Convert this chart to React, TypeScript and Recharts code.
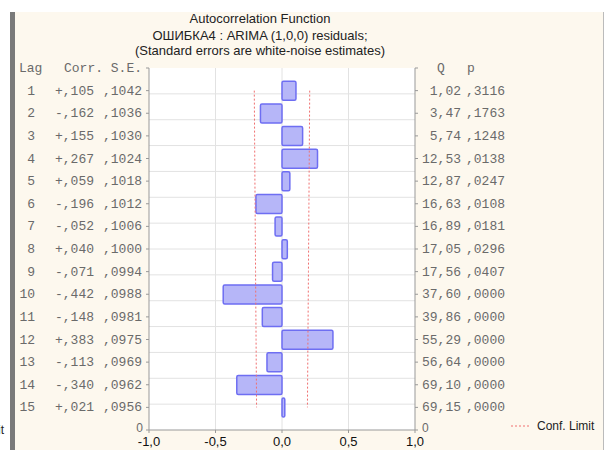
import React from "react";
import { ComposedChart, Bar, Line, XAxis, YAxis, CartesianGrid } from "recharts";

const lags = [1, 2, 3, 4, 5, 6, 7, 8, 9, 10, 11, 12, 13, 14, 15];
const corr = [0.105, -0.162, 0.155, 0.267, 0.059, -0.196, -0.052, 0.04, -0.071, -0.442, -0.148, 0.383, -0.113, -0.34, 0.021];
const stdErr = [0.1042, 0.1036, 0.103, 0.1024, 0.1018, 0.1012, 0.1006, 0.1, 0.0994, 0.0988, 0.0981, 0.0975, 0.0969, 0.0962, 0.0956];
const qStat = [1.02, 3.47, 5.74, 12.53, 12.87, 16.63, 16.89, 17.05, 17.56, 37.6, 39.86, 55.29, 56.64, 69.1, 69.15];
const pValue = [0.3116, 0.1763, 0.1248, 0.0138, 0.0247, 0.0108, 0.0181, 0.0296, 0.0407, 0.0, 0.0, 0.0, 0.0, 0.0, 0.0];
const xTicks = [-1, -0.5, 0, 0.5, 1];
const yTicks = [0, 1, 2, 3, 4, 5, 6, 7, 8, 9, 10, 11, 12, 13, 14, 15, 16];

const data = lags.map((lag, i) => ({
  lag,
  corr: corr[i],
  upper: 2 * stdErr[i],
  lower: -2 * stdErr[i],
}));

const fmtCorr = (v: number) => (v >= 0 ? "+" : "-") + "," + Math.abs(v).toFixed(3).slice(2);
const fmtFrac = (v: number) => "," + v.toFixed(4).slice(2);
const fmtQ = (v: number) => v.toFixed(2).replace(".", ",");

const mono = "'Liberation Mono', 'DejaVu Sans Mono', monospace";
const sans = "'Liberation Sans', Arial, sans-serif";
const textGray = "#6a6a6a";

function LeftTick(props: any) {
  const { y, payload } = props;
  const v = payload.value;
  if (v === 0) {
    return (
      <g>
        <text x={19} y={y} dy={4} fontFamily={mono} fontSize={13} fill={textGray}>Lag</text>
        <text x={64} y={y} dy={4} fontFamily={mono} fontSize={13} fill={textGray} style={{ whiteSpace: "pre" }}>Corr. S.E.</text>
      </g>
    );
  }
  if (v === 16) {
    return <text x={143} y={y} dy={2} textAnchor="end" fontFamily={sans} fontSize={12} fill={textGray}>0</text>;
  }
  const i = v - 1;
  return (
    <g>
      <text x={35} y={y} dy={4} textAnchor="end" fontFamily={mono} fontSize={13} fill={textGray}>{lags[i]}</text>
      <text x={55} y={y} dy={4} fontFamily={mono} fontSize={13} fill={textGray}>{fmtCorr(corr[i])}</text>
      <text x={103} y={y} dy={4} fontFamily={mono} fontSize={13} fill={textGray}>{fmtFrac(stdErr[i])}</text>
    </g>
  );
}

function RightTick(props: any) {
  const { y, payload } = props;
  const v = payload.value;
  if (v === 0) {
    return (
      <g>
        <text x={437} y={y} dy={4} fontFamily={mono} fontSize={13} fill={textGray}>Q</text>
        <text x={467} y={y} dy={4} fontFamily={mono} fontSize={13} fill={textGray}>p</text>
      </g>
    );
  }
  if (v === 16) {
    return <text x={422} y={y} dy={2} fontFamily={sans} fontSize={12} fill={textGray}>0</text>;
  }
  const i = v - 1;
  return (
    <g>
      <text x={461} y={y} dy={4} textAnchor="end" fontFamily={mono} fontSize={13} fill={textGray}>{fmtQ(qStat[i])}</text>
      <text x={466} y={y} dy={4} fontFamily={mono} fontSize={13} fill={textGray}>{fmtFrac(pValue[i])}</text>
    </g>
  );
}

const titleLine = (text: string, cy: number) => (
  <div
    style={{
      position: "absolute",
      left: 60,
      width: 400,
      top: cy - 8,
      lineHeight: "16px",
      textAlign: "center",
      fontFamily: sans,
      fontSize: 13,
      color: "#222",
      whiteSpace: "nowrap",
    }}
  >
    {text}
  </div>
);

export default function App() {
  return (
    <div style={{ position: "absolute", left: 0, top: 0, width: 608, height: 450, background: "#fff", overflow: "hidden" }}>
      {/* panel */}
      <div style={{ position: "absolute", left: 10, top: 12, width: 594, height: 438, background: "#fdf8ee", borderLeft: "5px solid #7a7a7a", borderRight: "1px solid #bbb", boxSizing: "border-box" }} />
      {titleLine("Autocorrelation Function", 19)}
      {titleLine("ОШИБКА4 : ARIMA (1,0,0) residuals;", 36)}
      {titleLine("(Standard errors are white-noise estimates)", 51)}
      <div style={{ position: "absolute", left: 0, top: 0 }}>
        <ComposedChart
          width={608}
          height={450}
          data={data}
          layout="vertical"
          margin={{ top: 68, right: 0, bottom: 0, left: 0 }}
        >
          <CartesianGrid stroke="#e2e2e2" fill="#ffffff" horizontalValues={lags} verticalValues={[-0.5, 0, 0.5]} />
          <XAxis
            type="number"
            domain={[-1, 1]}
            ticks={xTicks}
            height={20}
            stroke="#999"
            tickSize={3}
            tickMargin={4}
            tick={{ fill: "#111", fontFamily: sans, fontSize: 13 }}
            tickFormatter={(v: number) => v.toFixed(1).replace(".", ",")}
          />
          <XAxis
            xAxisId="top"
            orientation="top"
            type="number"
            domain={[-1, 1]}
            ticks={xTicks}
            height={0}
            stroke="#999"
            tickSize={3}
            mirror
            tick={false}
          />
          <YAxis
            yAxisId="left"
            type="number"
            dataKey="lag"
            domain={[0, 16]}
            ticks={yTicks}
            width={149}
            stroke="#999"
            tickSize={3}
            tick={<LeftTick />}
            interval={0}
          />
          <YAxis
            yAxisId="right"
            orientation="right"
            type="number"
            dataKey="lag"
            domain={[0, 16]}
            ticks={yTicks}
            width={193}
            stroke="#999"
            tickSize={3}
            tick={<RightTick />}
            interval={0}
          />
          <Bar
            yAxisId="left"
            dataKey="corr"
            barSize={19}
            fill="#b6b6f8"
            stroke="#6e6ef2"
            strokeWidth={1.5}
            radius={1.5}
            isAnimationActive={false}
          />
          <Line
            yAxisId="left"
            dataKey="upper"
            type="linear"
            stroke="#f07070"
            strokeWidth={1}
            strokeDasharray="2 2"
            dot={false}
            isAnimationActive={false}
          />
          <Line
            yAxisId="left"
            dataKey="lower"
            type="linear"
            stroke="#f07070"
            strokeWidth={1}
            strokeDasharray="2 2"
            dot={false}
            isAnimationActive={false}
          />
        </ComposedChart>
      </div>
      {/* legend */}
      <svg style={{ position: "absolute", left: 505, top: 418 }} width={30} height={16}>
        <line x1={6} y1={8} x2={26} y2={8} stroke="#f07070" strokeWidth={1} strokeDasharray="2 2" />
      </svg>
      <div style={{ position: "absolute", left: 537, top: 419, fontFamily: sans, fontSize: 12, color: "#222", whiteSpace: "nowrap", lineHeight: "14px" }}>
        Conf. Limit
      </div>
      <div style={{ position: "absolute", right: 604, top: 423, fontFamily: sans, fontSize: 12, color: "#222", whiteSpace: "nowrap", lineHeight: "14px" }}>
        Conf. Limit
      </div>
    </div>
  );
}
